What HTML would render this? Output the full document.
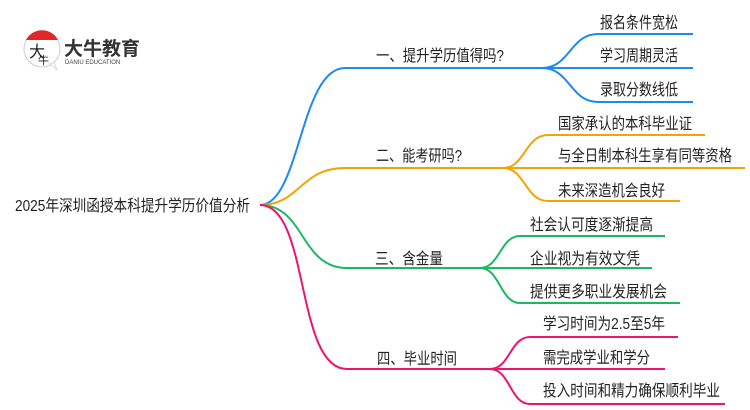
<!DOCTYPE html>
<html><head><meta charset="utf-8"><style>
body{margin:0;background:#fff;}
svg{display:block;font-family:"Liberation Sans","Noto Sans CJK SC",sans-serif;}
</style></head><body>
<svg width="750" height="410" viewBox="0 0 750 410" xmlns="http://www.w3.org/2000/svg">
<circle cx="42" cy="49" r="18" fill="#fff" stroke="#ccc" stroke-width="1"/>
<path d="M26,40 A18,18 0 0 1 58,40 Z" fill="#e02828"/>
<path d="M50,64 L57,70 L54,62 Z" fill="#fff" stroke="#ccc" stroke-width="0.8"/>
<text x="29" y="57" font-size="16" fill="#222">大</text>
<text x="38" y="64" font-size="11" fill="#222">牛</text>
<text x="64" y="55" font-size="19" font-weight="bold" fill="#333">大牛教育</text>
<text x="65" y="64" font-size="6" fill="#444">DANIU EDUCATION</text>

<g fill="none" stroke-width="2">
<path d="M260,205 C300,205 300,68 345,68 L542,68" stroke="#1e88f5"/>
<path d="M542,68 C570,68 570,34 598,34 L693,34 M542,68 L693,68 M542,68 C570,68 570,102 598,102 L693,102" stroke="#1e88f5"/>
<path d="M260,205 C300,205 300,168 345,168 L503,168" stroke="#f5a300"/>
<path d="M503,168 C525,168 525,135 548,135 L705,135 M503,168 L745,168 M503,168 C525,168 525,201 548,201 L680,201" stroke="#f5a300"/>
<path d="M260,205 C305,205 300,268 347,268 L480,268" stroke="#1ab862"/>
<path d="M480,268 C500,268 500,236 520,236 L665,236 M480,268 L652,268 M480,268 C500,268 500,303 520,303 L680,303" stroke="#1ab862"/>
<path d="M260,205 C310,205 295,369 347,369 L490,369" stroke="#f0136e"/>
<path d="M490,369 C510,369 510,337 530,337 L678,337 M490,369 L665,369 M490,369 C510,369 510,404 530,404 L725,404" stroke="#f0136e"/>
</g>

<g font-size="16" fill="#222">
<text x="15" y="211" textLength="235" lengthAdjust="spacingAndGlyphs">2025年深圳函授本科提升学历价值分析</text>
<text x="376" y="61" textLength="128" lengthAdjust="spacingAndGlyphs">一、提升学历值得吗?</text>
<text x="600" y="28" textLength="78" lengthAdjust="spacingAndGlyphs">报名条件宽松</text>
<text x="600" y="61" textLength="78" lengthAdjust="spacingAndGlyphs">学习周期灵活</text>
<text x="600" y="95" textLength="78" lengthAdjust="spacingAndGlyphs">录取分数线低</text>
<text x="376" y="161" textLength="86" lengthAdjust="spacingAndGlyphs">二、能考研吗?</text>
<text x="558" y="129" textLength="134" lengthAdjust="spacingAndGlyphs">国家承认的本科毕业证</text>
<text x="558" y="161" textLength="174" lengthAdjust="spacingAndGlyphs">与全日制本科生享有同等资格</text>
<text x="558" y="196" textLength="107" lengthAdjust="spacingAndGlyphs">未来深造机会良好</text>
<text x="375" y="264" textLength="68" lengthAdjust="spacingAndGlyphs">三、含金量</text>
<text x="530" y="230" textLength="123" lengthAdjust="spacingAndGlyphs">社会认可度逐渐提高</text>
<text x="530" y="264" textLength="110" lengthAdjust="spacingAndGlyphs">企业视为有效文凭</text>
<text x="530" y="297" textLength="137" lengthAdjust="spacingAndGlyphs">提供更多职业发展机会</text>
<text x="377" y="364" textLength="80" lengthAdjust="spacingAndGlyphs">四、毕业时间</text>
<text x="543" y="329" textLength="122" lengthAdjust="spacingAndGlyphs">学习时间为2.5至5年</text>
<text x="543" y="363" textLength="107" lengthAdjust="spacingAndGlyphs">需完成学业和学分</text>
<text x="543" y="396" textLength="177" lengthAdjust="spacingAndGlyphs">投入时间和精力确保顺利毕业</text>
</g>
</svg>
</body></html>
